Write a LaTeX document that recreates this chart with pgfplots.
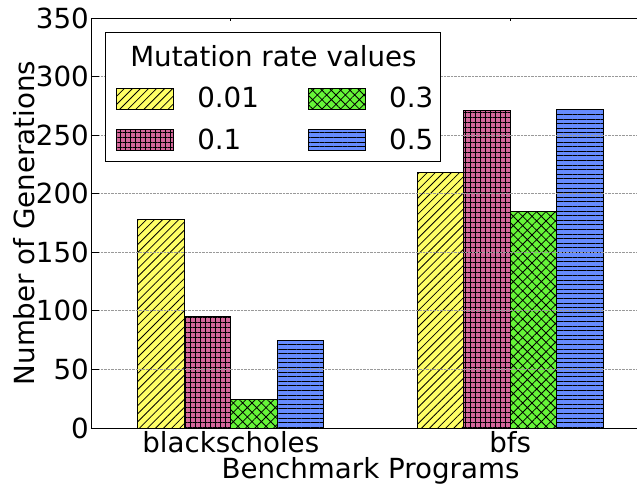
\documentclass[border=0pt]{standalone}
\usepackage{pgfplots}
\pgfplotsset{compat=1.18}
\usepackage{fontspec}
\setmainfont{DejaVu Sans}
\usetikzlibrary{patterns.meta}

\definecolor{barYellow}{RGB}{255,255,102}
\definecolor{barPink}{RGB}{212,102,154}
\definecolor{barGreen}{RGB}{102,245,56}
\definecolor{barBlue}{RGB}{102,140,255}

\pgfplotsset{
  rate001/.style={fill=barYellow, draw=black, line width=0.9pt,
    postaction={pattern={Lines[angle=45,distance=5.7pt,line width=0.8pt]}, pattern color=black}},
  rate01/.style={fill=barPink, draw=black, line width=0.9pt,
    postaction={pattern={Hatch[angle=0,distance=5pt,line width=0.8pt]}, pattern color=black}},
  rate03/.style={fill=barGreen, draw=black, line width=0.9pt,
    postaction={pattern={Hatch[angle=45,distance=6.6pt,line width=0.8pt]}, pattern color=black}},
  rate05/.style={fill=barBlue, draw=black, line width=0.9pt,
    postaction={pattern={Lines[angle=0,distance=4.6pt,line width=0.8pt]}, pattern color=black}},
}

\begin{document}
\begin{tikzpicture}[font=\fontsize{27.7}{33}\selectfont]
\begin{axis}[
  scale only axis,
  width=559pt, height=410pt,
  xmin=-0.5, xmax=1.5,
  ymin=0, ymax=350,
  axis y line*=left,
  ybar,
  bar width=0.1664,
  xtick={0,1},
  xticklabels={blackscholes,bfs},
  ytick={0,50,...,350},
  /pgf/number format/assume math mode=true,
  tick align=inside,
  tick style={black, line width=0.8pt},
  major tick length=8pt,
  x tick style={dash pattern=on 3.5pt off 30pt},
  xticklabel style={anchor=base, yshift=-24pt, inner sep=0pt},
  yticklabel style={inner xsep=2pt},
  ymajorgrids,
  major grid style={densely dotted, gray!80, line width=0.8pt},
  axis line style={black, line width=0.9pt},
  axis on top,
  xlabel={Benchmark Programs},
  ylabel={Number of Generations},
  every axis x label/.style={at={(axis description cs:0.5,0)}, anchor=base, yshift=-50pt},
  every axis y label/.style={at={(rel axis cs:-0.1199,0.5)}, rotate=90, anchor=center},
  legend columns=2,
  legend cell align=left,
  legend image code/.code={\draw[#1] (0pt,-11pt) rectangle (57pt,10pt);},
  legend style={
    at={(rel axis cs:0.025,0.9651)}, anchor=north west,
    draw=black, line width=0.9pt, fill=white,
    inner xsep=11pt, inner ysep=10pt,
    nodes={inner sep=0pt},
    column sep=23pt, row sep=19pt,
  },
]
% bars for each mutation rate, placed side by side within each program
\addplot[rate001, forget plot, bar shift=-0.2496] coordinates {(0,178) (1,218)};
\addplot[rate01,  forget plot, bar shift=-0.0832] coordinates {(0,95) (1,271)};
\addplot[rate03,  forget plot, bar shift=0.0832]  coordinates {(0,24) (1,185)};
\addplot[rate05,  forget plot, bar shift=0.2496]  coordinates {(0,75) (1,272)};

% legend: title row, then entries filled row by row
\addlegendimage{empty legend}
\addlegendentry{\makebox[88pt][l]{\hspace{-67pt}Mutation rate values\rule[-5pt]{0pt}{29pt}\hss}}
\addlegendimage{empty legend}
\addlegendentry{\makebox[40pt][l]{}}
\addlegendimage{rate001}\addlegendentry{\makebox[88pt][l]{0.01}}
\addlegendimage{rate03}\addlegendentry{\makebox[40pt][l]{0.3}}
\addlegendimage{rate01}\addlegendentry{\makebox[88pt][l]{0.1}}
\addlegendimage{rate05}\addlegendentry{\makebox[40pt][l]{0.5}}

\coordinate (bl) at (rel axis cs:0,0);
\coordinate (tr) at (rel axis cs:1,1);
\end{axis}
\pgfresetboundingbox
\path[use as bounding box] ([xshift=-91pt,yshift=-59pt]bl) rectangle ([xshift=-13pt,yshift=18pt]tr);
\end{tikzpicture}
\end{document}
